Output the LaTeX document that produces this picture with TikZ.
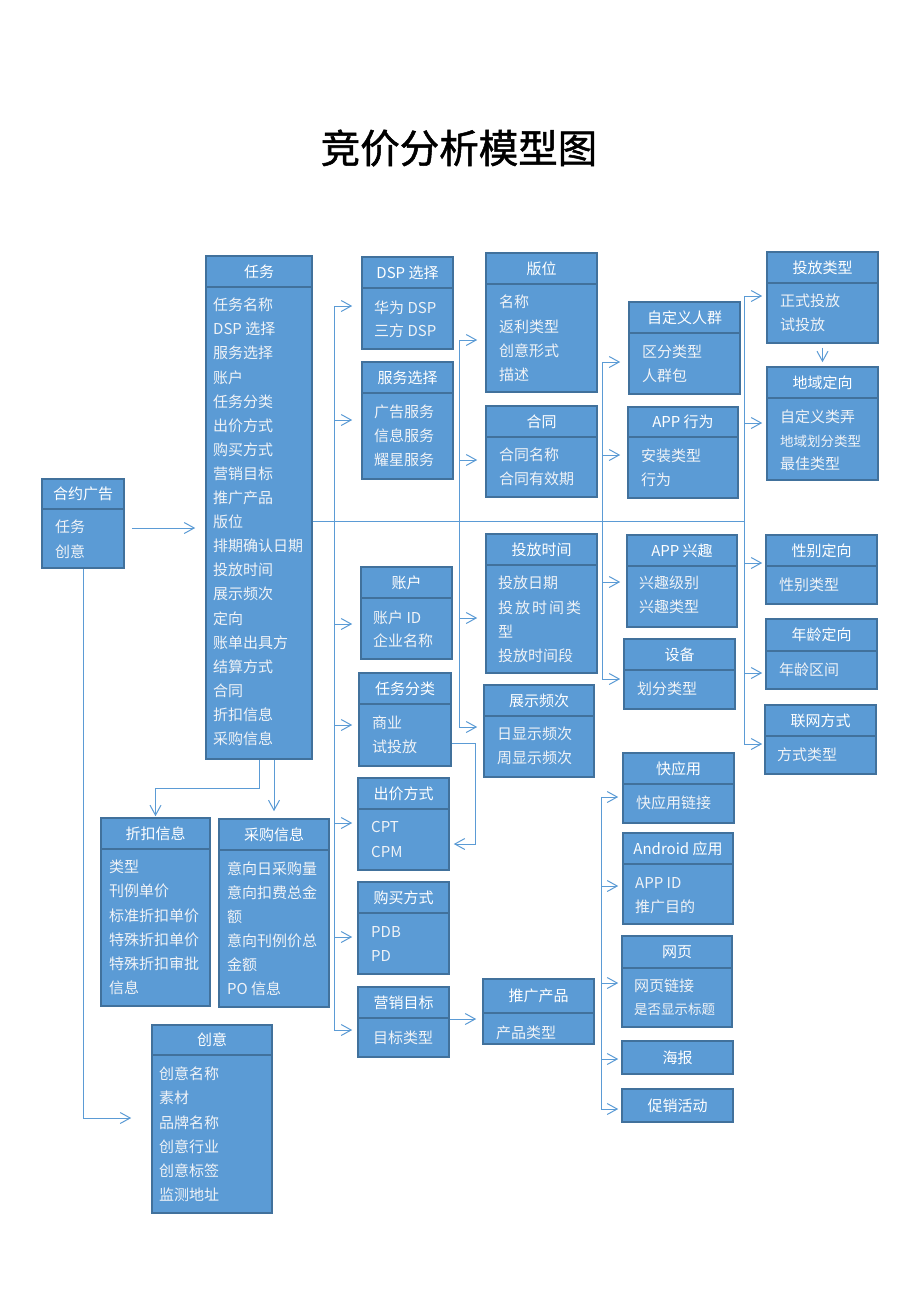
\documentclass[tikz,border=0pt]{standalone}
\usepackage{fontspec}
\setmainfont{Noto Sans CJK SC}
\newfontfamily\titlefont{Noto Sans CJK SC}[FakeBold=1.3]
\usetikzlibrary{arrows.meta,fit}
\definecolor{boxfill}{RGB}{91,155,213}
\definecolor{boxline}{RGB}{65,113,156}
\definecolor{linec}{RGB}{91,155,213}
\definecolor{itemc}{RGB}{240,243,247}
\newcommand\fsz{\fontsize{15}{18}\selectfont}
\newcommand\smf{\fontsize{13.5}{16}\selectfont}
\tikzset{
  band/.style={draw=boxline, fill=boxfill, line width=1.6pt, inner sep=0pt},
  body/.style={draw=boxline, fill=boxfill, line width=1.6pt, inner sep=0pt},
  btext/.style={inner sep=0pt, text=white, font=\fsz, text height=11.4pt, text depth=0pt},
  item/.style={anchor=west, inner sep=0pt, text=itemc, font=\fsz, text height=11.4pt, text depth=0pt},
  conn/.style={draw=linec, line width=1pt},
  arr/.style={conn, -{Straight Barb[length=10pt,width=11pt]}}
}
% name, x1, y1, ydiv, x2, y2, title
\newcommand\ubox[7]{%
  \node[band, fit={(#2,#3) (#5,#4)}] (#1t) {};
  \node[body, fit={(#2,#4) (#5,#6)}] (#1b) {};
  \node[btext] (#1l) at (#1t.center) {#7};
}
% name, x1, y1, x2, y2, text
\newcommand\singlebox[6]{%
  \node[band, fit={(#2,#3) (#4,#5)}] (#1) {};
  \node[btext] (#1l) at (#1.center) {#6};
}
% name, x, y0, step, list
\newcommand\items[5]{%
  \foreach \t [count=\i] in {#5} {\node[item] (#1-\i) at (#2,{#3+#4*(\i-1)}) {\t};}
}
\begin{document}
\begin{tikzpicture}[x=1pt,y=-1pt]
\useasboundingbox (0,0) rectangle (920,1302);
\fill[white] (0,0) rectangle (920,1302);

\node[font=\titlefont\fontsize{39.5}{44}\selectfont, text=black, inner sep=0pt] (title) at (459,148) {竞价分析模型图};

% ---- boxes ----
\ubox{hy}{42}{479}{509}{124}{568}{合约广告}
\items{hyi}{55}{527}{25}{任务,创意}

\ubox{rw}{206}{256}{287}{312}{759}{任务}
\items{rwi}{213}{305}{24.1}{任务名称,DSP 选择,服务选择,账户,任务分类,出价方式,购买方式,营销目标,推广产品,版位,排期确认日期,投放时间,展示频次,定向,账单出具方,结算方式,合同,折扣信息,采购信息}

\ubox{dsp}{362}{257}{288}{453}{349}{DSP 选择}
\items{dspi}{374}{308}{23}{华为 DSP,三方 DSP}

\ubox{fw}{362}{362}{393}{453}{479}{服务选择}
\items{fwi}{374}{412}{23.7}{广告服务,信息服务,耀星服务}

\ubox{zh}{361}{567}{598}{452}{659}{账户}
\items{zhi}{373}{618}{23}{账户 ID,企业名称}

\ubox{rfl}{359}{673}{704}{451}{766}{任务分类}
\items{rfli}{372}{723}{24}{商业,试投放}

\ubox{cj}{358}{778}{809}{449}{870}{出价方式}
\items{cji}{371}{827}{25}{CPT,CPM}

\ubox{gm}{358}{882}{913}{449}{974}{购买方式}
\items{gmi}{371}{932}{24}{PDB,PD}

\ubox{yx}{358}{987}{1018}{449}{1057}{营销目标}
\items{yxi}{373}{1038}{24}{目标类型}

\ubox{zk}{101}{818}{849}{210}{1006}{折扣信息}
\items{zki}{109}{867}{24.2}{类型,刊例单价,标准折扣单价,特殊折扣单价,特殊折扣审批,信息}

\ubox{cg}{219}{819}{850}{329}{1007}{采购信息}
\items{cgi}{227}{869}{24}{意向日采购量,意向扣费总金,额,意向刊例价总,金额,PO 信息}

\ubox{cy}{152}{1025}{1055}{272}{1213}{创意}
\items{cyi}{159}{1074}{24.2}{创意名称,素材,品牌名称,创意行业,创意标签,监测地址}

\ubox{bw}{486}{253}{284}{597}{392}{版位}
\items{bwi}{499}{302}{24.3}{名称,返利类型,创意形式,描述}

\ubox{ht}{486}{406}{437}{597}{497}{合同}
\items{hti}{499}{455}{24}{合同名称,合同有效期}

\ubox{tfsj}{486}{534}{565}{597}{673}{投放时间}
\items{tfsji}{498}{583}{24.3}{投放日期,{投\hspace{2pt}放\hspace{2pt}时\hspace{2pt}间\hspace{2pt}类},型,投放时间段}

\ubox{zs}{484}{685}{716}{594}{777}{展示频次}
\items{zsi}{497}{734}{24}{日显示频次,周显示频次}

\ubox{tg}{483}{979}{1013}{594}{1044}{推广产品}
\items{tgi}{496}{1033}{24}{产品类型}

\ubox{zdy}{629}{302}{333}{740}{394}{自定义人群}
\items{zdyi}{642}{352}{24}{区分类型,人群包}

\ubox{axw}{628}{407}{437}{738}{498}{APP 行为}
\items{axwi}{641}{456}{24}{安装类型,行为}

\ubox{axq}{627}{535}{566}{737}{627}{APP 兴趣}
\items{axqi}{639}{583}{24}{兴趣级别,兴趣类型}

\ubox{sb}{624}{639}{670}{735}{709}{设备}
\items{sbi}{637}{689}{24}{划分类型}

\ubox{kyy}{623}{753}{784}{734}{823}{快应用}
\items{kyyi}{636}{803}{24}{快应用链接}

\ubox{adr}{623}{833}{864}{733}{924}{Android 应用}
\items{adri}{635}{883}{24}{APP ID,推广目的}

\ubox{wy}{622}{936}{968}{732}{1027}{网页}
\items{wyi}{634}{986}{23}{网页链接,{\smf 是否显示标题}}

\singlebox{hb}{622}{1041}{733}{1074}{海报}
\singlebox{cx}{622}{1089}{733}{1122}{促销活动}

\ubox{tflx}{767}{252}{283}{878}{343}{投放类型}
\items{tflxi}{780}{301}{24}{正式投放,试投放}

\ubox{dy}{767}{367}{398}{878}{480}{地域定向}
\items{dyi}{780}{417}{23.5}{自定义类弄,{\smf 地域划分类型},最佳类型}

\ubox{xb}{766}{535}{566}{877}{604}{性别定向}
\items{xbi}{779}{585}{24}{性别类型}

\ubox{nl}{766}{619}{651}{877}{689}{年龄定向}
\items{nli}{779}{670}{24}{年龄区间}

\ubox{lw}{765}{705}{736}{876}{774}{联网方式}
\items{lwi}{777}{755}{24}{方式类型}

% ---- bus coordinates ----
\coordinate (B1) at (334,521);
\coordinate (B2) at (459,521);
\coordinate (B3) at (602,521);
\coordinate (B4) at (744,521);
\coordinate (B5) at (601,797);

% ---- connectors ----
\draw[arr, shorten <=7pt, shorten >=10pt] (hyb.east |- 0,528) -- (rwb.west |- 0,528);
\draw[arr, shorten >=20pt] (hyb.south) |- (cyb.west |- 0,1118);
\draw[arr, shorten >=1pt] (rwb.south) -- (rwb.south |- 0,788) -| (zkt.north);
\draw[arr, shorten >=7pt] (cgt.north |- rwb.south) -- (cgt.north);

\draw[conn] (rwb.east |- 0,521) -- (B4);

% bus 1
\draw[conn] (B1 |- 0,306) -- (B1 |- 0,1030);
\draw[arr, shorten >=9pt] (B1 |- 0,306) -- (dspb.west |- 0,306);
\draw[arr, shorten >=9pt] (B1 |- 0,420) -- (fwb.west |- 0,420);
\draw[arr, shorten >=8pt] (B1 |- 0,624) -- (zhb.west |- 0,624);
\draw[arr, shorten >=6pt] (B1 |- 0,725) -- (rflb.west |- 0,725);
\draw[arr, shorten >=5pt] (B1 |- 0,823) -- (cjb.west |- 0,823);
\draw[arr, shorten >=5pt] (B1 |- 0,937) -- (gmb.west |- 0,937);
\draw[arr, shorten >=5pt] (B1 |- 0,1030) -- (yxb.west |- 0,1030);

% bus 2
\draw[conn] (B2 |- 0,340) -- (B2 |- 0,727);
\draw[arr, shorten >=8pt] (B2 |- 0,340) -- (bwb.west |- 0,340);
\draw[arr, shorten >=8pt] (B2 |- 0,460) -- (htb.west |- 0,460);
\draw[arr, shorten >=8pt] (B2 |- 0,618) -- (tfsjb.west |- 0,618);
\draw[arr, shorten >=6pt] (B2 |- 0,727) -- (zsb.west |- 0,727);

% bus 3
\draw[conn] (B3 |- 0,362) -- (B3 |- 0,679);
\draw[arr, shorten >=8pt] (B3 |- 0,362) -- (zdyb.west |- 0,362);
\draw[arr, shorten >=7pt] (B3 |- 0,455) -- (axwb.west |- 0,455);
\draw[arr, shorten >=6pt] (B3 |- 0,582) -- (axqb.west |- 0,582);
\draw[arr, shorten >=3pt] (B3 |- 0,679) -- (sbb.west |- 0,679);

% bus 4
\draw[conn] (B4 |- 0,296) -- (B4 |- 0,744);
\draw[arr, shorten >=4pt] (B4 |- 0,296) -- (tflxb.west |- 0,296);
\draw[arr, shorten >=4pt] (B4 |- 0,423) -- (dyb.west |- 0,423);
\draw[arr, shorten >=3pt] (B4 |- 0,563) -- (xbb.west |- 0,563);
\draw[arr, shorten >=3pt] (B4 |- 0,673) -- (nlb.west |- 0,673);
\draw[arr, shorten >=2pt] (B4 |- 0,744) -- (lwb.west |- 0,744);

% bus 5
\draw[conn] (B5) -- (B5 |- 0,1109);
\draw[arr, shorten >=4pt] (B5) -- (kyyb.west |- B5);
\draw[arr, shorten >=4pt] (B5 |- 0,886) -- (adrb.west |- 0,886);
\draw[arr, shorten >=3pt] (B5 |- 0,983) -- (wyb.west |- 0,983);
\draw[arr, shorten >=3pt] (B5 |- 0,1059) -- (hb.west |- 0,1059);
\draw[arr, shorten >=3pt] (B5 |- 0,1109) -- (cx.west |- 0,1109);

% cross links
\draw[arr, shorten >=4pt] (rflb.east |- 0,743) -- ++(24,0) |- (cjb.east |- 0,844);
\draw[arr, shorten >=6pt] (yxb.east |- 0,1019) -- (tgb.west |- 0,1019);
\draw[arr, shorten <=4pt, shorten >=4pt] (tflxb.south) -- (dyt.north);
\end{tikzpicture}
\end{document}
